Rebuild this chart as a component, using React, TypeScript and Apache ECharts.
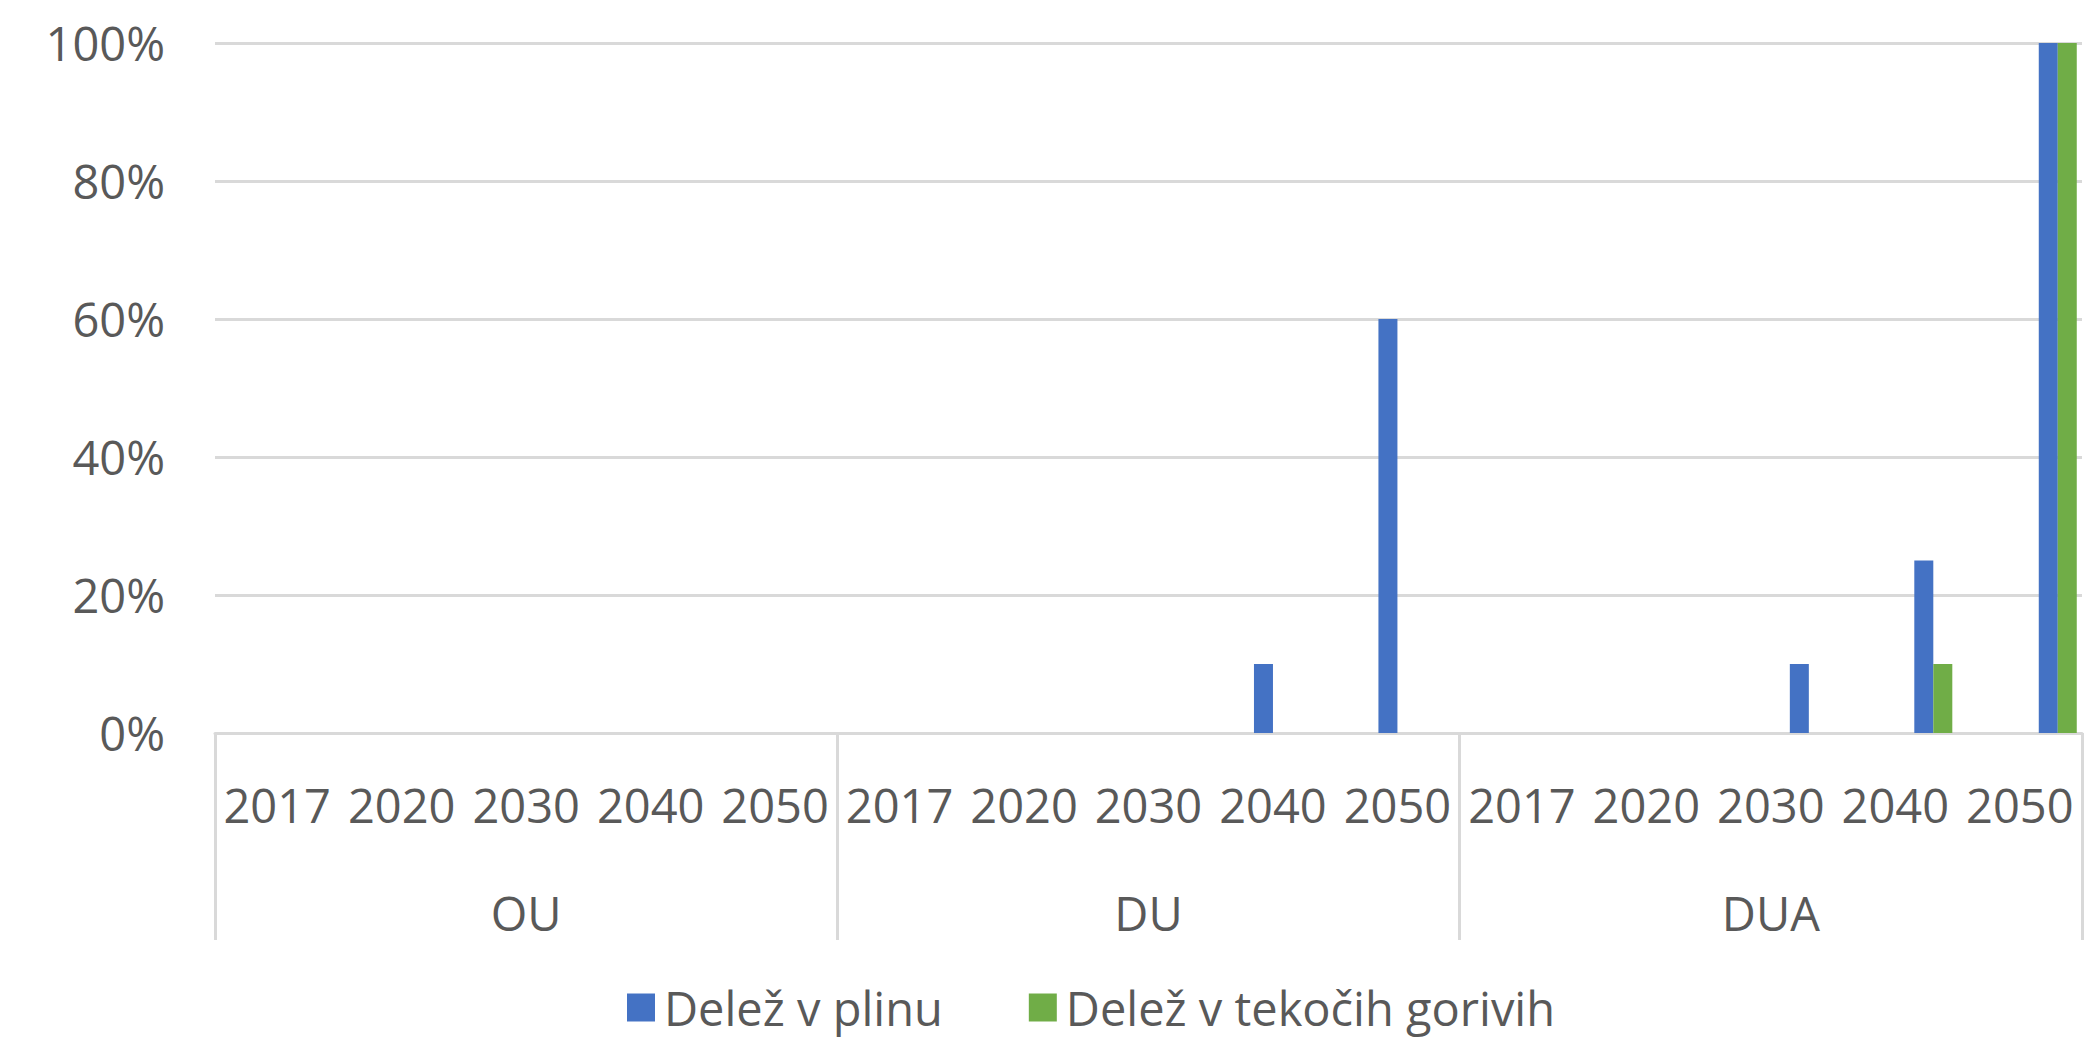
import React, { useEffect, useRef } from "react";
import * as echarts from "echarts";

const groups = ["OU", "DU", "DUA"];
const years = ["2017", "2020", "2030", "2040", "2050"];
const seriesNames = ["Delež v plinu", "Delež v tekočih gorivih"];
const colors = ["#4472C4", "#70AD47"];

// values per group (percent)
const plinOU = [0, 0, 0, 0, 0];
const tekociOU = [0, 0, 0, 0, 0];
const plinDU = [0, 0, 0, 10, 60];
const tekociDU = [0, 0, 0, 0, 0];
const plinDUA = [0, 0, 10, 25, 100];
const tekociDUA = [0, 0, 0, 10, 100];

const yTicks = [0, 20, 40, 60, 80, 100];

const groupValues = [
  [plinOU, tekociOU],
  [plinDU, tekociDU],
  [plinDUA, tekociDUA],
];

const FONT = "Open Sans";
const TEXT = "#595959";
const GRID = "#D9D9D9";

export default function App() {
  const ref = useRef<HTMLDivElement>(null);
  useEffect(() => {
    if (!ref.current) return;
    const chart = echarts.init(ref.current, undefined, { renderer: "svg" });
    const cats: string[] = [];
    groups.forEach((g) => years.forEach((y) => cats.push(g + "|" + y)));
    const series: any[] = [];
    groupValues.forEach((pair, gi) => {
      pair.forEach((vals, si) => {
        const data = cats.map((_, ci) => {
          const g = Math.floor(ci / years.length);
          return g === gi ? vals[ci % years.length] : null;
        });
        series.push({
          type: "bar",
          name: seriesNames[si],
          xAxisIndex: 0,
          yAxisIndex: 0,
          data,
          barGap: "0%",
          barCategoryGap: "8.4%",
          itemStyle: { color: colors[si] },
        });
      });
    });
    chart.setOption({
      animation: false,
      textStyle: { fontFamily: FONT },
      grid: { left: 215, right: 8, top: 43, bottom: 310, containLabel: false },
      legend: {
        data: seriesNames,
        left: 627,
        top: 984,
        padding: 0,
        icon: "rect",
        itemWidth: 28,
        itemHeight: 28,
        itemGap: 86,
        textStyle: {
          fontFamily: FONT,
          fontSize: 47,
          color: TEXT,
          padding: [0, 0, 0, 4],
        },
      },
      xAxis: [
        {
          type: "category",
          data: cats,
          position: "bottom",
          axisLine: { show: true, lineStyle: { color: GRID, width: 3 } },
          axisTick: { show: false },
          axisLabel: {
            interval: 0,
            margin: 48,
            fontFamily: FONT,
            fontSize: 47,
            color: TEXT,
            formatter: (v: string) => v.split("|")[1],
          },
        },
        {
          type: "category",
          data: groups,
          position: "bottom",
          offset: 0,
          axisLine: { show: false },
          axisTick: { show: true, length: 207, interval: 0, lineStyle: { color: GRID, width: 3 } },
          axisLabel: { interval: 0, margin: 156, fontFamily: FONT, fontSize: 47, color: TEXT },
        },
      ],
      yAxis: {
        type: "value",
        min: 0,
        max: 100,
        interval: 20,
        axisLine: { show: false },
        axisTick: { show: false },
        splitLine: { lineStyle: { color: GRID, width: 3 } },
        axisLabel: {
          margin: 50,
          fontFamily: FONT,
          fontSize: 47,
          color: TEXT,
          formatter: (v: number) => (yTicks.includes(v) ? v + "%" : ""),
        },
      },
      series,
    });
    return () => chart.dispose();
  }, []);
  return (
    <div
      ref={ref}
      style={{ position: "absolute", left: 0, top: 0, width: 2090, height: 1043, background: "#fff" }}
    />
  );
}
